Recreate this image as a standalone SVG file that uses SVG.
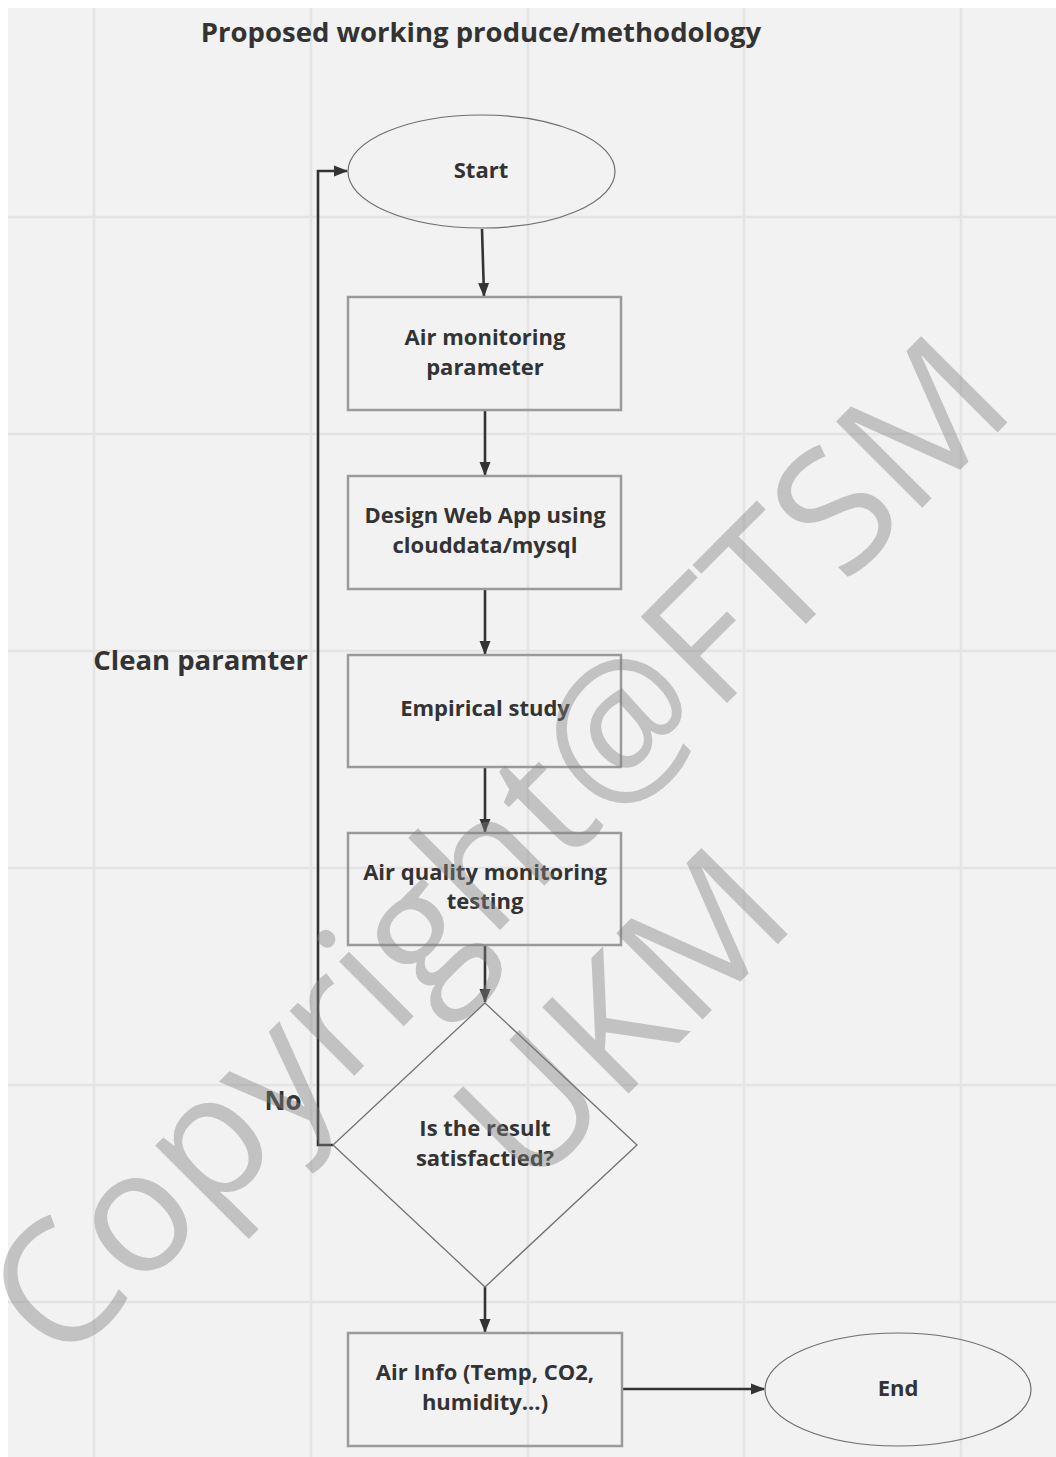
<svg xmlns="http://www.w3.org/2000/svg" width="1056" height="1457" viewBox="0 0 1056 1457">
<style>
.bg{fill:#f2f2f2}
.grid line{stroke:#e4e4e4;stroke-width:2.5}
.box{fill:none;stroke:#9a9a9a;stroke-width:2.5}
.oval{fill:none;stroke:#6e6e6e;stroke-width:1.2}
.dia{fill:none;stroke:#727272;stroke-width:1.3}
.t{font-family:"Open Sans","Noto Sans","Liberation Sans",sans-serif;font-weight:700;fill:#333;text-anchor:middle;font-size:22px}
.title{font-size:27.5px}
.side{font-size:27.5px}
.conn{fill:none;stroke:#333;stroke-width:2.6}
.wm{font-family:"Open Sans","Noto Sans","Liberation Sans",sans-serif;font-weight:400;font-size:171px;fill:#808080;fill-opacity:0.42;text-anchor:middle}
</style>
<defs>
<marker id="arr" markerWidth="14" markerHeight="12" refX="13" refY="6" orient="auto" markerUnits="userSpaceOnUse">
<path d="M0,0.5 L14,6 L0,11.5 z" fill="#333"/>
</marker>
</defs>
<rect width="1056" height="1457" fill="#ffffff"/>
<rect class="bg" x="8" y="8" width="1048" height="1449"/>
<g class="grid">
<line x1="94" y1="8" x2="94" y2="1457"/>
<line x1="311" y1="8" x2="311" y2="1457"/>
<line x1="528" y1="8" x2="528" y2="1457"/>
<line x1="744" y1="8" x2="744" y2="1457"/>
<line x1="961" y1="8" x2="961" y2="1457"/>
<line x1="8" y1="217" x2="1056" y2="217"/>
<line x1="8" y1="434" x2="1056" y2="434"/>
<line x1="8" y1="651" x2="1056" y2="651"/>
<line x1="8" y1="868" x2="1056" y2="868"/>
<line x1="8" y1="1085" x2="1056" y2="1085"/>
<line x1="8" y1="1302" x2="1056" y2="1302"/>
</g>
<text class="t title" x="481" y="42">Proposed working produce/methodology</text>
<g id="connectors">
<path class="conn" d="M482,229 L484,296" marker-end="url(#arr)"/>
<path class="conn" d="M485,411 L485,475" marker-end="url(#arr)"/>
<path class="conn" d="M485,590 L485,654" marker-end="url(#arr)"/>
<path class="conn" d="M485,768 L485,832" marker-end="url(#arr)"/>
<path class="conn" d="M485,946 L485,1002" marker-end="url(#arr)"/>
<path class="conn" d="M485,1287 L485,1332" marker-end="url(#arr)"/>
<path class="conn" d="M333,1145 L318,1145 L318,171 L347,171" marker-end="url(#arr)"/>
<path class="conn" d="M623,1389 L764,1389" marker-end="url(#arr)"/>
<text class="t side" x="308" y="670" style="text-anchor:end">Clean paramter</text>
<text class="t" x="283" y="1110" style="font-size:26px">No</text>
</g>
<g id="start">
<ellipse class="oval" cx="481.5" cy="171.5" rx="133.5" ry="56.5"/>
<text class="t" x="481" y="178">Start</text>
</g>
<g id="air-monitoring">
<rect class="box" x="348" y="297" width="273" height="113"/>
<text class="t" x="485" y="345">Air monitoring</text>
<text class="t" x="485" y="375">parameter</text>
</g>
<g id="design-web-app">
<rect class="box" x="348" y="476" width="273" height="113"/>
<text class="t" x="485" y="523">Design Web App using</text>
<text class="t" x="485" y="553">clouddata/mysql</text>
</g>
<g id="empirical-study">
<rect class="box" x="348" y="655" width="273" height="112"/>
<text class="t" x="485" y="716">Empirical study</text>
</g>
<g id="testing">
<rect class="box" x="348" y="833" width="273" height="112"/>
<text class="t" x="485" y="880">Air quality monitoring</text>
<text class="t" x="485" y="909">testing</text>
</g>
<g id="decision">
<polygon class="dia" points="485,1003 637,1145 485,1287 333,1145"/>
<text class="t" x="485" y="1136">Is the result</text>
<text class="t" x="485" y="1166">satisfactied?</text>
</g>
<g id="air-info">
<rect class="box" x="348" y="1333" width="274" height="113"/>
<text class="t" x="485" y="1380">Air Info (Temp, CO2,</text>
<text class="t" x="485" y="1410">humidity...)</text>
</g>
<g id="end">
<ellipse class="oval" cx="898" cy="1389.5" rx="133" ry="56.5"/>
<text class="t" x="898" y="1396">End</text>
</g>
<g id="watermark">
<text class="wm" transform="translate(540,890) rotate(-45)">Copyright@FTSM</text>
<text class="wm" transform="translate(664,1058) rotate(-45)">UKM</text>
</g>
</svg>
